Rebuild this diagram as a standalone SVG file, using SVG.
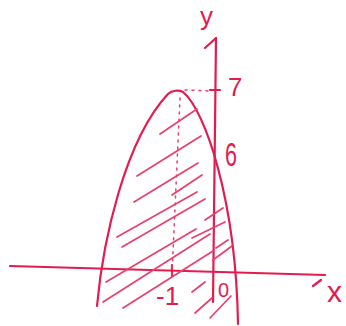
<svg xmlns="http://www.w3.org/2000/svg" width="346" height="326" viewBox="0 0 346 326">
<style>
.ink{fill:none;stroke:#e31b4f;stroke-width:2.2;stroke-linecap:round;stroke-linejoin:round}
.hatch{fill:none;stroke:#e8416d;stroke-width:1.7;stroke-linecap:round}
.dot{fill:none;stroke:#e8416d;stroke-width:1.5;stroke-linecap:round;stroke-dasharray:2 5}
.lbl{fill:#e31b4f;font-family:"Liberation Sans",Arial,sans-serif}
</style>
<rect width="346" height="326" fill="#ffffff"/>
<g id="axes">
<path class="ink" d="M10 266 L325 275"/>
<path class="ink" d="M313 286 L321 280"/>
<path class="ink" d="M216 38 L213 302"/>
<path class="ink" d="M205 48 L216 38"/>
<path class="ink" d="M210 90 L220 90"/>
<path class="ink" d="M172 265 L172 276"/>
</g>
<g id="guides">
<path class="dot" d="M180 98 L172 274"/>
<path class="dot" d="M185 90 L211 91"/>
</g>
<g id="parabola">
<path class="ink" d="M97 306 C103 240 125 140 168 94 C172 90 179 90 183 92 C205 110 236 200 238 324"/>
</g>
<g id="hatching">
<path class="hatch" d="M160 134 L197 109"/>
<path class="hatch" d="M137 176 L201 136"/>
<path class="hatch" d="M134 202 L198 163"/>
<path class="hatch" d="M172 195 L202 175"/>
<path class="hatch" d="M117 237 L197 192"/>
<path class="hatch" d="M122 247 L205 199"/>
<path class="hatch" d="M205 220 L223 208"/>
<path class="hatch" d="M192 238 L225 222"/>
<path class="hatch" d="M216 248 L228 240"/>
<path class="hatch" d="M106 282 L196 229"/>
<path class="hatch" d="M103 302 L210 234"/>
<path class="hatch" d="M123 308 L213 251"/>
<path class="hatch" d="M213 260 L232 246"/>
<path class="hatch" d="M192 292 L205 282"/>
<path class="hatch" d="M195 313 L212 298"/>
<path class="hatch" d="M210 318 L231 296"/>
</g>
<g id="labels">
<text class="lbl" x="200" y="25" font-size="26">y</text>
<text class="lbl" x="228" y="96" font-size="26">7</text>
<text class="lbl" x="225" y="166" font-size="33" textLength="12" lengthAdjust="spacingAndGlyphs">6</text>
<text class="lbl" x="156" y="305" font-size="26">-1</text>
<text class="lbl" x="218" y="297" font-size="20">0</text>
<text class="lbl" x="327" y="302" font-size="30">x</text>
</g>
</svg>
